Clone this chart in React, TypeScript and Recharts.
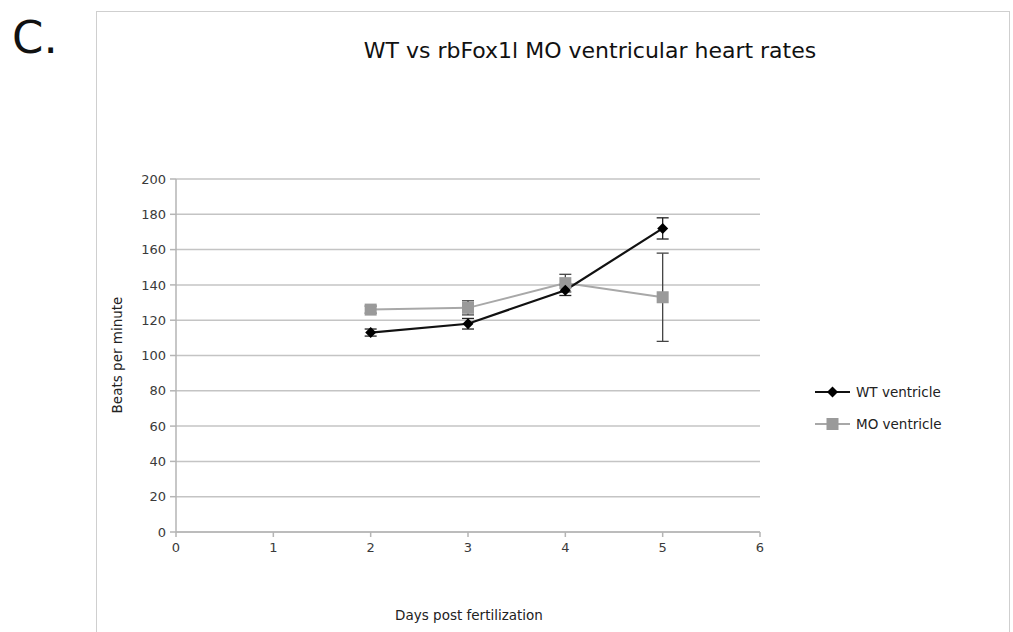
import React from "react";
import { LineChart, Line, XAxis, YAxis, CartesianGrid, ErrorBar } from "recharts";

const days = [2, 3, 4, 5];
const wtRate = [113, 118, 137, 172];
const wtErr = [2, 3, 3, 6];
const moRate = [126, 127, 141, 133];
const moErr = [2, 4, 5, 25];
const xTicks = [0, 1, 2, 3, 4, 5, 6];
const yTicks = [0, 20, 40, 60, 80, 100, 120, 140, 160, 180, 200];
const seriesNames = ["WT ventricle", "MO ventricle"];

const data = days.map((d, i) => ({
  day: d,
  wt: wtRate[i],
  wtErr: wtErr[i],
  mo: moRate[i],
  moErr: moErr[i],
}));

const font = "'DejaVu Sans', 'Open Sans', sans-serif";
const tickStyle = { fontSize: 13, fill: "#3a3a3a", fontFamily: font };

const Diamond = (props: any) => {
  const { cx, cy } = props;
  if (cx == null || cy == null) return null;
  return <path d={`M${cx},${cy - 5.5} L${cx + 5.5},${cy} L${cx},${cy + 5.5} L${cx - 5.5},${cy} Z`} fill="#000" />;
};

const Square = (props: any) => {
  const { cx, cy } = props;
  if (cx == null || cy == null) return null;
  return <rect x={cx - 6} y={cy - 6} width={12} height={12} fill="#9a9a9a" />;
};

export default function App() {
  return (
    <div style={{ position: "absolute", left: 0, top: 0, width: 1013, height: 632, background: "#fff", overflow: "hidden", fontFamily: font }}>
      <div style={{ position: "absolute", left: 12, top: 11, fontSize: 45, color: "#111", fontFamily: font }}>C.</div>
      <div style={{ position: "absolute", left: 96, top: 11, width: 912, height: 640, border: "1.5px solid #cfcfcf" }} />
      <div style={{ position: "absolute", left: 190, width: 800, top: 38, textAlign: "center", fontSize: 22, color: "#111" }}>
        WT vs rbFox1l MO ventricular heart rates
      </div>
      <div style={{ position: "absolute", left: 0, top: 0 }}>
        <LineChart width={1013} height={632} data={data} margin={{ top: 179, right: 253, bottom: 70, left: 116 }}>
          <CartesianGrid horizontal vertical={false} stroke="#c4c4c4" strokeWidth={1.5} />
          <XAxis
            dataKey="day"
            type="number"
            domain={[0, 6]}
            ticks={xTicks}
            height={30}
            tick={tickStyle}
            stroke="#b5b5b5"
            strokeWidth={1.5}
            tickSize={5}
            tickMargin={6}
          />
          <YAxis
            domain={[0, 200]}
            ticks={yTicks}
            width={60}
            tick={tickStyle}
            stroke="#b5b5b5"
            strokeWidth={1.5}
            tickSize={6}
            tickMargin={4}
          />
          <Line dataKey="mo" name={seriesNames[1]} stroke="#a8a8a8" strokeWidth={2} dot={<Square />} isAnimationActive={false}>
            <ErrorBar dataKey="moErr" width={6} stroke="#444" strokeWidth={1.3} />
          </Line>
          <Line dataKey="wt" name={seriesNames[0]} stroke="#111" strokeWidth={2.2} dot={<Diamond />} isAnimationActive={false}>
            <ErrorBar dataKey="wtErr" width={6} stroke="#222" strokeWidth={1.3} />
          </Line>
        </LineChart>
      </div>
      <div style={{ position: "absolute", left: 117, top: 355, transform: "translate(-50%, -50%) rotate(-90deg)", fontSize: 13.5, color: "#222", whiteSpace: "nowrap" }}>
        Beats per minute
      </div>
      <div style={{ position: "absolute", left: 176, width: 586, top: 607, textAlign: "center", fontSize: 13.5, color: "#222" }}>
        Days post fertilization
      </div>
      <div style={{ position: "absolute", left: 814, top: 376, fontSize: 13.5, color: "#222" }}>
        {seriesNames.map((n, i) => (
          <div key={n} style={{ display: "flex", alignItems: "center", height: 32 }}>
            <svg width={38} height={14}>
              {i === 0 ? (
                <>
                  <line x1={1} y1={7} x2={36} y2={7} stroke="#111" strokeWidth={2.2} />
                  <path d="M18.5,1.5 L24,7 L18.5,12.5 L13,7 Z" fill="#000" />
                </>
              ) : (
                <>
                  <line x1={1} y1={7} x2={36} y2={7} stroke="#a8a8a8" strokeWidth={2} />
                  <rect x={12.5} y={1} width={12} height={12} fill="#9a9a9a" />
                </>
              )}
            </svg>
            <span style={{ marginLeft: 4 }}>{n}</span>
          </div>
        ))}
      </div>
    </div>
  );
}
